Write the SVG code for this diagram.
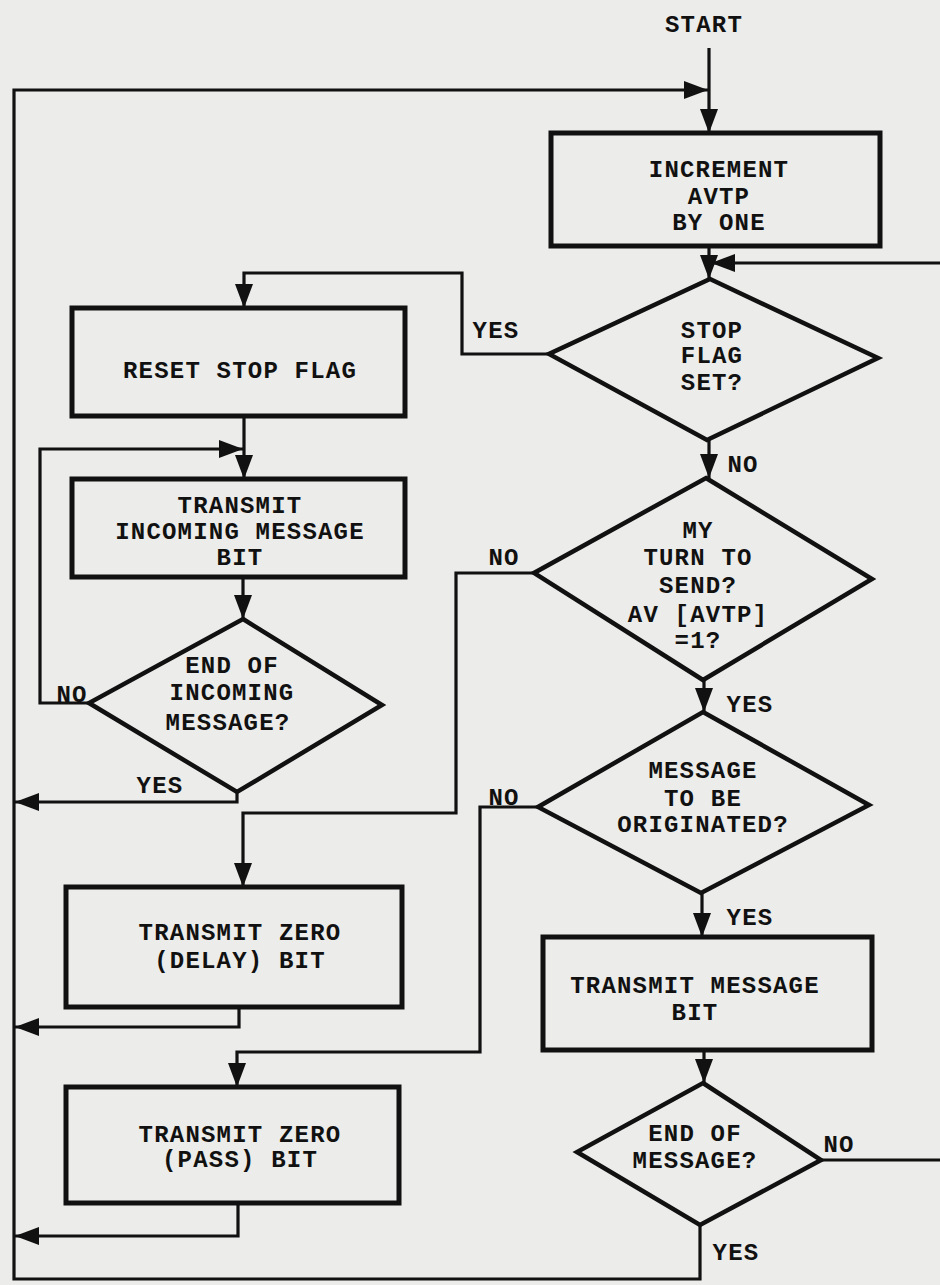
<svg xmlns="http://www.w3.org/2000/svg" width="940" height="1285" viewBox="0 0 940 1285">
<style>
.bg{fill:#ececea}
.box{fill:none;stroke:#111;stroke-width:5}
.dia{fill:none;stroke:#111;stroke-width:4.5;stroke-linejoin:miter}
.con{fill:none;stroke:#111;stroke-width:3.2}
.arr{marker-end:url(#ah)}
text{font-family:"Liberation Mono","DejaVu Sans Mono",monospace;font-weight:bold;font-size:24px;letter-spacing:1.2px;fill:#111;text-anchor:middle}
</style>
<defs>
<marker id="ah" markerUnits="userSpaceOnUse" markerWidth="24" markerHeight="18" refX="24" refY="9" orient="auto">
<path d="M0,0 L24,9 L0,18 z" fill="#111"/>
</marker>
</defs>
<rect class="bg" x="0" y="0" width="940" height="1285"/>

<g id="connectors">
<path class="con arr" d="M709,48 V133"/>
<path class="con arr" d="M700,1225 V1279 H14 V90 H708"/>
<path class="con arr" d="M709,246 V279"/>
<path class="con arr" d="M821,1160 H945 V263 H711"/>
<path class="con arr" d="M549,354 H462 V273 H244 V308"/>
<path class="con arr" d="M709,440 V478"/>
<path class="con arr" d="M244,416 V479"/>
<path class="con arr" d="M89,703 H40 V449 H243"/>
<path class="con arr" d="M243,577 V619"/>
<path class="con arr" d="M237,792 V802 H15"/>
<path class="con arr" d="M534,573 H456 V813 H243 V887"/>
<path class="con arr" d="M704,680 V712"/>
<path class="con arr" d="M538,807 H480 V1052 H237 V1087"/>
<path class="con arr" d="M702,893 V937"/>
<path class="con arr" d="M239,1007 V1027 H15"/>
<path class="con arr" d="M704,1050 V1083"/>
<path class="con arr" d="M238,1203 V1236 H15"/>
</g>

<g id="labels">
<text x="704" y="32">START</text>
<text x="496" y="338">YES</text>
<text x="743" y="472">NO</text>
<text x="504" y="565">NO</text>
<text x="72" y="702">NO</text>
<text x="160" y="793">YES</text>
<text x="750" y="712">YES</text>
<text x="504" y="805">NO</text>
<text x="750" y="925">YES</text>
<text x="839" y="1152">NO</text>
<text x="736" y="1260">YES</text>
</g>

<g id="increment">
<rect class="box" x="551" y="133" width="329" height="113"/>
<text x="719" y="177">INCREMENT</text>
<text x="719" y="204">AVTP</text>
<text x="719" y="230">BY ONE</text>
</g>

<g id="stopflag">
<polygon class="dia" points="710,279 878,358 707,440 549,354"/>
<text x="712" y="338">STOP</text>
<text x="712" y="363">FLAG</text>
<text x="712" y="390">SET?</text>
</g>

<g id="reset">
<rect class="box" x="72" y="308" width="333" height="108"/>
<text x="240" y="378">RESET STOP FLAG</text>
</g>

<g id="transmitincoming">
<rect class="box" x="72" y="479" width="333" height="98"/>
<text x="240" y="513">TRANSMIT</text>
<text x="240" y="539">INCOMING MESSAGE</text>
<text x="240" y="565">BIT</text>
</g>

<g id="endincoming">
<polygon class="dia" points="243,619 382,705 237,792 89,703"/>
<text x="232" y="673">END OF</text>
<text x="232" y="700">INCOMING</text>
<text x="228" y="730">MESSAGE?</text>
</g>

<g id="myturn">
<polygon class="dia" points="706,478 872,579 703,680 534,573"/>
<text x="698" y="538">MY</text>
<text x="698" y="565">TURN TO</text>
<text x="698" y="593">SEND?</text>
<text x="698" y="622">AV [AVTP]</text>
<text x="698" y="648">=1?</text>
</g>

<g id="originated">
<polygon class="dia" points="703,712 869,805 701,893 538,807"/>
<text x="703" y="778">MESSAGE</text>
<text x="703" y="806">TO BE</text>
<text x="703" y="832">ORIGINATED?</text>
</g>

<g id="delay">
<rect class="box" x="66" y="887" width="336" height="120"/>
<text x="240" y="940">TRANSMIT ZERO</text>
<text x="240" y="968">(DELAY) BIT</text>
</g>

<g id="transmitmessage">
<rect class="box" x="543" y="937" width="329" height="113"/>
<text x="695" y="993">TRANSMIT MESSAGE</text>
<text x="695" y="1020">BIT</text>
</g>

<g id="pass">
<rect class="box" x="66" y="1087" width="333" height="116"/>
<text x="240" y="1142">TRANSMIT ZERO</text>
<text x="240" y="1167">(PASS) BIT</text>
</g>

<g id="endmessage">
<polygon class="dia" points="703,1083 821,1160 700,1225 577,1152"/>
<text x="695" y="1141">END OF</text>
<text x="695" y="1168">MESSAGE?</text>
</g>
</svg>
